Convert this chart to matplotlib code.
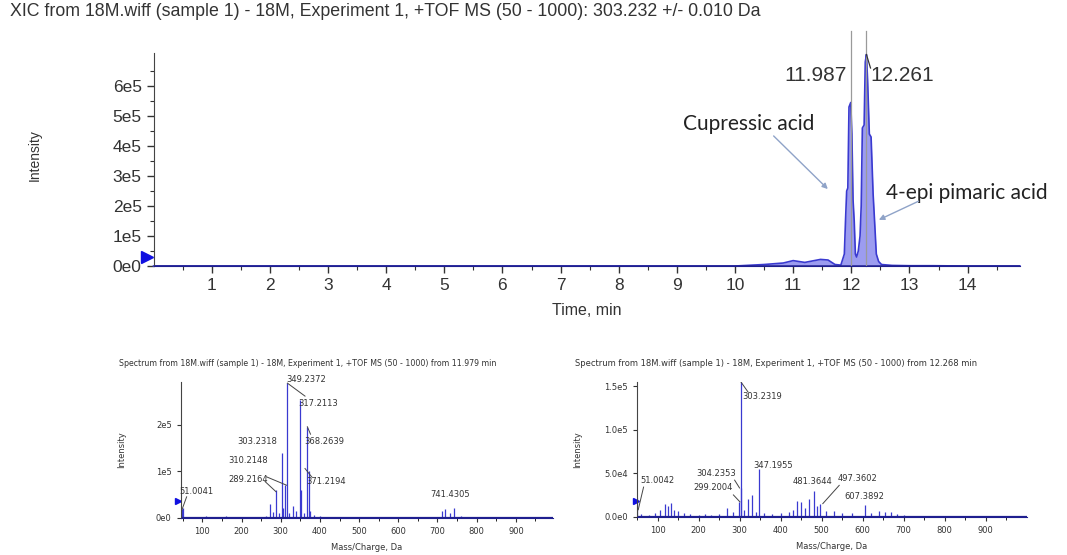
import numpy as np
import matplotlib.pyplot as plt

# XIC trace (time in min, intensity in counts)
xic_time = [0.0, 1.0, 2.0, 3.0, 4.0, 5.0, 6.0, 7.0, 8.0, 9.0, 10.0, 10.2, 10.5, 10.83,
            11.0, 11.2, 11.47, 11.6, 11.72, 11.82, 11.88, 11.90, 11.92, 11.94, 11.96,
            11.99, 12.01, 12.03, 12.05, 12.07, 12.09, 12.12, 12.15, 12.17, 12.19, 12.22,
            12.24, 12.26, 12.28, 12.31, 12.34, 12.375, 12.40, 12.43, 12.47, 12.52, 12.7,
            13.0, 13.4, 14.0, 14.9]
xic_int = [0, 0, 0, 0, 0, 0, 0, 0, 0, 0, 0, 0.02e5, 0.05e5, 0.1e5,
           0.18e5, 0.12e5, 0.22e5, 0.2e5, 0.05e5, 0.03e5, 0.4e5, 1.5e5, 2.5e5, 2.6e5, 5.3e5,
           5.45e5, 4.4e5, 2.2e5, 1.5e5, 0.4e5, 0.3e5, 0.5e5, 1.0e5, 2.0e5, 4.6e5, 4.7e5,
           6.8e5, 7.05e5, 6.2e5, 4.4e5, 4.3e5, 2.4e5, 1.5e5, 0.4e5, 0.15e5, 0.05e5, 0.02e5,
           0.01e5, 0.01e5, 0, 0]

peak_rt = [11.987, 12.261]

# spectrum at 11.979 min
mz_a = [45, 48, 51, 70, 85, 100, 110, 125, 140, 160, 175, 195, 210, 230, 250, 262, 273,
        280, 289, 295, 303, 306, 310, 317, 322, 331, 338, 349, 352, 360, 368, 371, 375,
        385, 400, 420, 450, 480, 510, 550, 600, 650, 690, 712, 720, 733, 741, 760, 800,
        850, 900, 950]
int_a = [0.15e5, 0.18e5, 0.2e5, 0.02e5, 0.015e5, 0.02e5, 0.03e5, 0.02e5, 0.025e5, 0.03e5,
         0.015e5, 0.02e5, 0.015e5, 0.02e5, 0.02e5, 0.04e5, 0.3e5, 0.12e5, 0.6e5, 0.1e5,
         1.39e5, 0.2e5, 0.7e5, 2.9e5, 0.1e5, 0.25e5, 0.15e5, 2.54e5, 0.6e5, 0.1e5, 1.96e5,
         1.0e5, 0.15e5, 0.05e5, 0.03e5, 0.02e5, 0.02e5, 0.02e5, 0.015e5, 0.02e5, 0.015e5,
         0.02e5, 0.02e5, 0.15e5, 0.18e5, 0.1e5, 0.2e5, 0.03e5, 0.02e5, 0.015e5, 0.02e5,
         0.015e5]

# spectrum at 12.268 min
mz_b = [45, 51, 60, 80, 95, 105, 118, 125, 132, 140, 150, 165, 180, 200, 215, 230, 250,
        270, 285, 299, 303, 304, 310, 320, 330, 340, 347, 360, 380, 400, 420, 430, 441,
        450, 460, 470, 481, 490, 497, 510, 530, 550, 575, 607, 620, 640, 655, 670, 685,
        700, 750, 800, 850, 900, 950]
int_b = [0.1e5, 0.22e5, 0.03e5, 0.02e5, 0.04e5, 0.08e5, 0.15e5, 0.12e5, 0.16e5, 0.08e5,
         0.06e5, 0.04e5, 0.03e5, 0.02e5, 0.03e5, 0.02e5, 0.03e5, 0.1e5, 0.05e5, 0.17e5,
         1.55e5, 0.33e5, 0.08e5, 0.2e5, 0.25e5, 0.05e5, 0.55e5, 0.04e5, 0.03e5, 0.04e5,
         0.05e5, 0.08e5, 0.18e5, 0.17e5, 0.1e5, 0.2e5, 0.3e5, 0.12e5, 0.15e5, 0.06e5,
         0.07e5, 0.04e5, 0.04e5, 0.14e5, 0.04e5, 0.06e5, 0.05e5, 0.05e5, 0.03e5, 0.02e5,
         0.01e5, 0.01e5, 0.01e5, 0.01e5, 0.01e5]

# labels: (text, text x, text y, leader from, leader to)
labels_a = [("349.2372", 365, 2.97e5, None, None),
            ("317.2113", 395, 2.47e5, (317, 2.9e5), (362, 2.62e5)),
            ("368.2639", 410, 1.64e5, (368, 1.96e5), (376, 1.8e5)),
            ("371.2194", 415, 0.78e5, (362, 1.06e5), (379, 0.88e5)),
            ("303.2318", 239, 1.64e5, None, None),
            ("310.2148", 218, 1.23e5, (264, 0.88e5), (315, 0.7e5)),
            ("289.2164", 218, 0.83e5, (260, 0.78e5), (288, 0.56e5)),
            ("51.0041", 86, 0.575e5, (48, 0.17e5), (60, 0.45e5)),
            ("741.4305", 733, 0.49e5, None, None)]
labels_b = [("303.2319", 356, 1.38e5, (303, 1.55e5), (321, 1.43e5)),
            ("347.1955", 381, 0.59e5, None, None),
            ("304.2353", 244, 0.5e5, (288, 0.42e5), (300, 0.33e5)),
            ("299.2004", 236, 0.33e5, (285, 0.25e5), (301, 0.17e5)),
            ("51.0042", 101, 0.42e5, (53, 0.08e5), (66, 0.34e5)),
            ("481.3644", 479, 0.4e5, None, None),
            ("497.3602", 588, 0.44e5, (503, 0.15e5), (543, 0.36e5)),
            ("607.3892", 604, 0.23e5, None, None)]

TXT = '#333333'
NAVY = '#1f1f8f'
BLUE = '#3a3ad0'

fig = plt.figure(figsize=(10.67, 5.55), dpi=100)

fig.text(10 / 1067, 1 - 12 / 555,
         "XIC from 18M.wiff (sample 1) - 18M, Experiment 1, +TOF MS (50 - 1000): 303.232 +/- 0.010 Da",
         fontsize=12.75, color=TXT, va='center', family='Liberation Sans')

# ---- top panel: XIC ----
ax = fig.add_axes([0.1439, 0.5207, 0.812, 0.3838])
ax.fill_between(xic_time, xic_int, color='#9c9cf0', lw=0)
ax.plot(xic_time, xic_int, color=BLUE, lw=1.2, clip_on=False)
ax.axhline(0, color=NAVY, lw=1.8)
for rt in peak_rt:
    ax.plot([rt, rt], [0, 7.85e5], color='#9a9a9a', lw=0.9, clip_on=False)
ax.text(11.93, 6.35e5, "11.987", ha='right', va='center', fontsize=15, color=TXT,
        family='Liberation Sans')
ax.plot([12.26, 12.33], [7.05e5, 6.6e5], color='#333333', lw=0.9)
ax.text(12.33, 6.35e5, "12.261", ha='left', va='center', fontsize=15, color=TXT,
        family='Liberation Sans')
ax.text(9.1, 4.75e5, "Cupressic acid", fontsize=15, color='#222222', family='Lato',
        va='center')
ax.annotate("", xy=(11.63, 2.5e5), xytext=(10.63, 4.4e5),
            arrowprops=dict(arrowstyle='-|>', color='#8fa3c8', lw=1, mutation_scale=8))
ax.text(12.6, 2.45e5, "4-epi pimaric acid", fontsize=15, color='#222222', family='Lato',
        va='center')
ax.annotate("", xy=(12.43, 1.5e5), xytext=(13.2, 2.2e5),
            arrowprops=dict(arrowstyle='-|>', color='#8fa3c8', lw=1, mutation_scale=8))
ax.plot([-0.12], [0.3e5], marker='>', ms=9, color='#1010e0', clip_on=False)

ax.set_xlim(0, 14.9)
ax.set_ylim(0, 7.1e5)
ax.set_xticks(range(1, 15))
ax.set_xticks(np.arange(0.5, 15, 0.5), minor=True)
ax.set_yticks([0, 1e5, 2e5, 3e5, 4e5, 5e5, 6e5])
ax.set_yticklabels(["0e0", "1e5", "2e5", "3e5", "4e5", "5e5", "6e5"])
ax.set_yticks(np.arange(0.5e5, 7e5, 0.5e5), minor=True)
ax.tick_params(labelsize=12.5, colors=TXT, length=5, width=1)
ax.tick_params(which='minor', length=3, width=0.8, colors=TXT)
for lab in ax.get_xticklabels() + ax.get_yticklabels():
    lab.set_family('Liberation Sans')
ax.spines[['top', 'right']].set_visible(False)
ax.spines['left'].set_color('#444444')
ax.spines['bottom'].set_color(NAVY)
ax.set_xlabel("Time, min", fontsize=11.5, color=TXT, family='Liberation Sans', labelpad=7)
fig.text(35 / 1067, 1 - 155 / 555, "Intensity", rotation=90, fontsize=10, color=TXT,
         ha='center', va='center', family='Liberation Sans')


def spectrum(rect, mz, inten, xlim, ylim, yt, ytl, labels, title, ylab_x, title_size):
    a = fig.add_axes(rect)
    a.vlines(mz, 0, inten, color=BLUE, lw=0.9)
    a.axhline(0, color=NAVY, lw=1.6)
    a.plot([xlim[0] - 8], [0.12 * ylim], marker='>', ms=5, color='#1010e0', clip_on=False)
    for txt, tx, ty, p0, p1 in labels:
        a.text(tx, ty, txt, fontsize=6, color=TXT, ha='center', va='center',
               family='Liberation Sans Narrow', clip_on=False)
        if p0 is not None:
            a.plot([p0[0], p1[0]], [p0[1], p1[1]], color='#444444', lw=0.7)
    a.set_xlim(*xlim)
    a.set_ylim(0, ylim)
    a.set_xticks(range(100, 1000, 100))
    a.set_xticks(range(50, 1000, 50), minor=True)
    a.set_yticks(yt)
    a.set_yticklabels(ytl)
    a.tick_params(labelsize=6, colors=TXT, length=3, width=0.8)
    a.tick_params(which='minor', length=2, width=0.6)
    for lab in a.get_xticklabels() + a.get_yticklabels():
        lab.set_family('Liberation Sans Narrow')
    a.spines[['top', 'right']].set_visible(False)
    a.spines['left'].set_color('#444444')
    a.spines['bottom'].set_color(NAVY)
    a.set_xlabel("Mass/Charge, Da", fontsize=6, color=TXT, labelpad=5,
                 family='Liberation Sans Narrow')
    fig.text(ylab_x, rect[1] + rect[3] / 2, "Intensity", rotation=90, fontsize=6,
             color=TXT, ha='center', va='center', family='Liberation Sans Narrow')
    fig.text(rect[0] - 0.058, 1 - 363 / 555, title, fontsize=title_size, color=TXT,
             va='center', family='Liberation Sans Narrow')
    return a


spectrum([0.1694, 0.0672, 0.349, 0.245], mz_a, int_a, (45, 995), 2.93e5,
         [0, 1e5, 2e5], ["0e0", "1e5", "2e5"], labels_a,
         "Spectrum from 18M.wiff (sample 1) - 18M, Experiment 1, +TOF MS (50 - 1000) from 11.979 min",
         122 / 1067, 5.7)
spectrum([0.597, 0.069, 0.3652, 0.2432], mz_b, int_b, (55, 1000), 1.55e5,
         [0, 0.5e5, 1.0e5, 1.5e5], ["0.0e0", "5.0e4", "1.0e5", "1.5e5"], labels_b,
         "Spectrum from 18M.wiff (sample 1) - 18M, Experiment 1, +TOF MS (50 - 1000) from 12.268 min",
         578 / 1067, 6.05)

fig.savefig("out.png", dpi=100)
